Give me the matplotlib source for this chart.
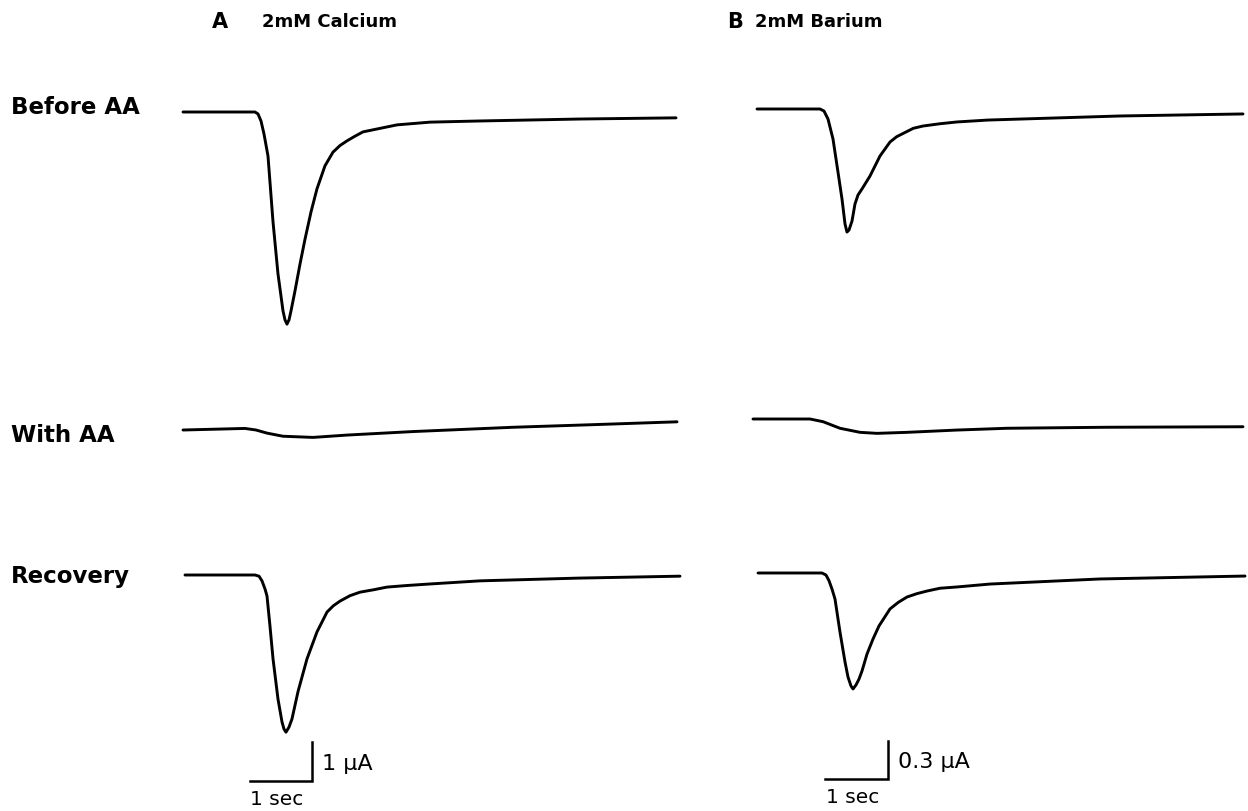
import matplotlib
matplotlib.use("Agg")
import matplotlib.pyplot as plt

W, H = 1248, 812

# ---- recorded currents: time (s) from sweep start, current (uA) relative to holding level ----
# Panel A: 2 mM Calcium
ca_before_t = [0.00, 1.161, 1.210, 1.258, 1.306, 1.371, 1.452, 1.532, 1.613, 1.645, 1.677,
               1.710, 1.742, 1.806, 1.887, 1.968, 2.065, 2.161, 2.290, 2.419, 2.532, 2.645,
               2.774, 2.903, 3.177, 3.452, 3.984, 4.790, 6.403, 7.952]
ca_before_i = [0.00, 0.00, -0.05, -0.23, -0.56, -1.13, -2.82, -4.15, -5.10, -5.33, -5.44,
               -5.33, -5.10, -4.59, -3.90, -3.26, -2.56, -1.97, -1.38, -1.03, -0.86, -0.74,
               -0.62, -0.51, -0.42, -0.33, -0.26, -0.23, -0.18, -0.15]

ca_with_t = [0.00, 1.000, 1.177, 1.355, 1.613, 2.097, 2.645, 3.710, 5.323, 6.677, 7.968]
ca_with_i = [0.00, 0.04, 0.00, -0.08, -0.16, -0.19, -0.13, -0.04, 0.07, 0.14, 0.21]

ca_rec_t = [0.032, 1.161, 1.226, 1.274, 1.323, 1.355, 1.403, 1.452, 1.532, 1.597, 1.629,
            1.661, 1.710, 1.758, 1.855, 2.000, 2.161, 2.323, 2.424, 2.532, 2.694, 2.855,
            3.069, 3.290, 3.608, 3.984, 4.790, 6.371, 8.016]
ca_rec_i = [0.00, 0.00, -0.03, -0.15, -0.36, -0.54, -1.31, -2.15, -3.18, -3.77, -3.95,
            -4.03, -3.90, -3.69, -2.99, -2.15, -1.46, -0.95, -0.79, -0.67, -0.53, -0.44,
            -0.38, -0.31, -0.27, -0.23, -0.15, -0.08, -0.03]

# Panel B: 2 mM Barium
ba_before_t = [0.032, 1.032, 1.095, 1.159, 1.238, 1.317, 1.381, 1.429, 1.460, 1.492, 1.540,
               1.587, 1.635, 1.698, 1.825, 1.984, 2.143, 2.249, 2.513, 2.667, 2.937, 3.206,
               3.698, 5.794, 7.746]
ba_before_i = [0.000, 0.000, -0.016, -0.079, -0.236, -0.496, -0.709, -0.906, -0.969, -0.953,
               -0.882, -0.748, -0.677, -0.630, -0.528, -0.370, -0.260, -0.218, -0.152, -0.134,
               -0.116, -0.102, -0.087, -0.055, -0.039]

ba_with_t = [-0.032, 0.873, 1.079, 1.349, 1.667, 1.937, 2.413, 3.206, 4.000, 5.587, 7.746]
ba_with_i = [0.000, 0.000, -0.021, -0.073, -0.105, -0.113, -0.105, -0.087, -0.073, -0.065, -0.061]

ba_rec_t = [0.048, 1.063, 1.127, 1.175, 1.222, 1.270, 1.349, 1.429, 1.476, 1.524, 1.556,
            1.603, 1.651, 1.698, 1.778, 1.873, 1.968, 2.143, 2.275, 2.413, 2.567, 2.730,
            2.937, 3.206, 3.730, 5.476, 7.778]
ba_rec_i = [0.000, 0.000, -0.016, -0.061, -0.126, -0.205, -0.465, -0.701, -0.819, -0.890,
            -0.913, -0.882, -0.835, -0.772, -0.638, -0.520, -0.417, -0.283, -0.231, -0.189,
            -0.163, -0.142, -0.120, -0.110, -0.087, -0.047, -0.024]

row_labels = ["Before AA", "With AA", "Recovery"]
panel_titles = [("A", "2mM Calcium"), ("B", "2mM Barium")]
time_bar_s = 1.0
time_bar_label = "1 sec"
current_bars_uA = [1.0, 0.3]
current_bar_labels = ["1 \u03bcA", "0.3 \u03bcA"]

# ---- layout (pixels) ----
panels = [
    dict(x0=183, px_per_s=62, px_per_uA=39, baselines=[113, 431, 576],
         traces=[(ca_before_t, ca_before_i), (ca_with_t, ca_with_i), (ca_rec_t, ca_rec_i)],
         bar_corner=(312, 782)),
    dict(x0=755, px_per_s=63, px_per_uA=127, baselines=[110, 420, 574],
         traces=[(ba_before_t, ba_before_i), (ba_with_t, ba_with_i), (ba_rec_t, ba_rec_i)],
         bar_corner=(888, 780)),
]

fig = plt.figure(figsize=(W / 100, H / 100), dpi=100)
fig.patch.set_facecolor("white")

def fx(px):
    return px / W

def fy(py):
    return 1 - py / H

LW = 2.1
for k, p in enumerate(panels):
    ax = fig.add_axes([0, 0, 1, 1])
    ax.set_xlim(-p["x0"] / p["px_per_s"], (W - p["x0"]) / p["px_per_s"])
    ax.set_ylim(-H / p["px_per_uA"], 0)
    ax.axis("off")
    ax.patch.set_alpha(0)
    for (t, i), base in zip(p["traces"], p["baselines"]):
        off = -base / p["px_per_uA"]
        ax.plot(t, [v + off for v in i], color="black", lw=LW,
                solid_joinstyle="round", solid_capstyle="round")
    # scale bars
    cx = (p["bar_corner"][0] - p["x0"]) / p["px_per_s"]
    cy = -p["bar_corner"][1] / p["px_per_uA"]
    ax.plot([cx - time_bar_s, cx, cx], [cy, cy, cy + current_bars_uA[k]],
            color="black", lw=1.8, solid_joinstyle="miter")
    bx, by = p["bar_corner"]
    fig.text(fx(bx - 62), fy(by + 18), time_bar_label, fontsize=14.5,
             ha="left", va="center", family="DejaVu Sans")
    fig.text(fx(bx + 10), fy(by - 18), current_bar_labels[k], fontsize=16,
             ha="left", va="center", family="DejaVu Sans")

# panel titles
for (letter, title), (lx, tx) in zip(panel_titles, [(212, 262), (727, 755)]):
    fig.text(fx(lx), fy(22), letter, fontsize=15, fontweight="bold",
             ha="left", va="center", family="DejaVu Sans")
    fig.text(fx(tx), fy(22), title, fontsize=13, fontweight="bold",
             ha="left", va="center", family="DejaVu Sans")

# row labels
for label, y in zip(row_labels, [107, 436, 577]):
    fig.text(fx(11), fy(y), label, fontsize=16.5, fontweight="bold",
             ha="left", va="center", family="DejaVu Sans")

fig.savefig("out.png", dpi=100, facecolor="white")
